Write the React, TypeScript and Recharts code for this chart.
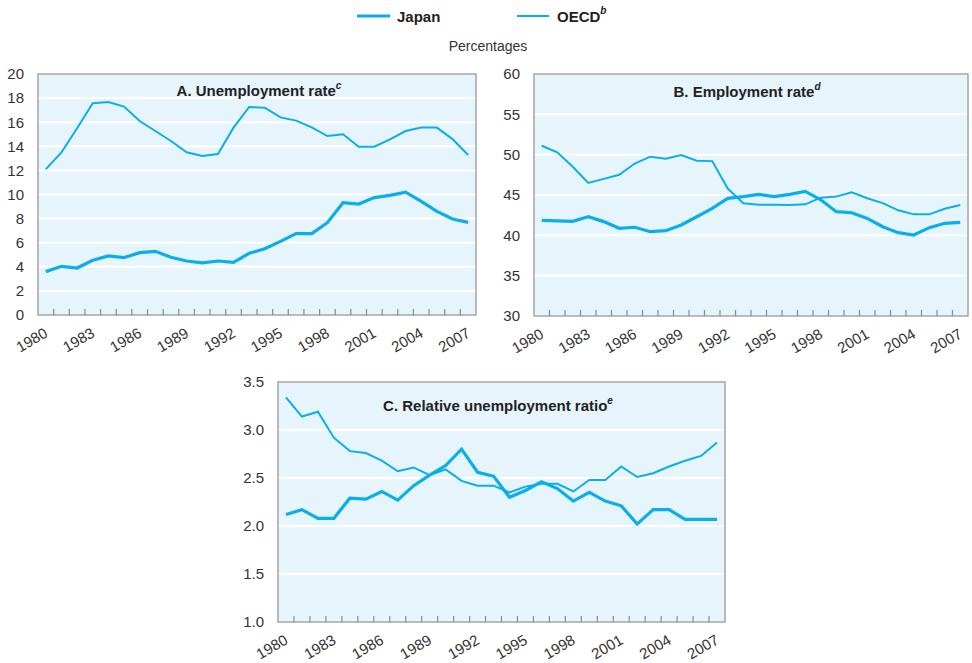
import React from 'react';
import { LineChart, Line, XAxis, YAxis, CartesianGrid, ReferenceArea } from 'recharts';

const YEARS = [1980, 1981, 1982, 1983, 1984, 1985, 1986, 1987, 1988, 1989, 1990, 1991, 1992, 1993, 1994, 1995, 1996, 1997, 1998, 1999, 2000, 2001, 2002, 2003, 2004, 2005, 2006, 2007];
const YEAR_LABELS = [1980, 1983, 1986, 1989, 1992, 1995, 1998, 2001, 2004, 2007];
const SERIES_JAPAN = 'Japan';
const SERIES_OECD = 'OECD';

const UNEMP_JAPAN = [3.6, 4.04, 3.9, 4.54, 4.9, 4.76, 5.17, 5.28, 4.79, 4.48, 4.32, 4.48, 4.37, 5.12, 5.5, 6.11, 6.75, 6.75, 7.66, 9.32, 9.21, 9.74, 9.93, 10.2, 9.43, 8.6, 7.97, 7.69];
const UNEMP_OECD = [12.1, 13.5, 15.5, 17.57, 17.68, 17.3, 16.1, 15.27, 14.44, 13.5, 13.2, 13.36, 15.55, 17.26, 17.2, 16.4, 16.13, 15.57, 14.85, 15.0, 13.97, 13.97, 14.58, 15.27, 15.55, 15.55, 14.6, 13.28];
const EMP_JAPAN = [41.86, 41.8, 41.74, 42.3, 41.7, 40.87, 41.0, 40.45, 40.58, 41.28, 42.3, 43.35, 44.59, 44.8, 45.08, 44.8, 45.08, 45.45, 44.4, 42.93, 42.8, 42.1, 41.07, 40.33, 40.04, 40.95, 41.49, 41.6];
const EMP_OECD = [51.1, 50.3, 48.5, 46.5, 47.0, 47.5, 48.9, 49.75, 49.5, 49.96, 49.26, 49.2, 45.8, 43.97, 43.8, 43.8, 43.76, 43.84, 44.67, 44.8, 45.33, 44.6, 44.0, 43.1, 42.6, 42.6, 43.3, 43.76];
const RATIO_JAPAN = [2.12, 2.17, 2.08, 2.08, 2.29, 2.28, 2.36, 2.27, 2.42, 2.53, 2.63, 2.8, 2.56, 2.52, 2.3, 2.37, 2.46, 2.39, 2.26, 2.35, 2.26, 2.21, 2.02, 2.17, 2.17, 2.07, 2.07, 2.07];
const RATIO_OECD = [3.34, 3.14, 3.19, 2.92, 2.78, 2.76, 2.68, 2.57, 2.61, 2.53, 2.59, 2.47, 2.42, 2.42, 2.35, 2.41, 2.44, 2.44, 2.36, 2.48, 2.48, 2.62, 2.51, 2.55, 2.62, 2.68, 2.73, 2.87];

const UNEMP_TICKS = [0, 2, 4, 6, 8, 10, 12, 14, 16, 18, 20];
const EMP_TICKS = [30, 35, 40, 45, 50, 55, 60];
const RATIO_TICKS = [1.0, 1.5, 2.0, 2.5, 3.0, 3.5];

const LINE_COLOR = '#0BAEEB';
const TEXT_COLOR = '#333333';
const BORDER_COLOR = '#A5A5A5';
const MARK_COLOR = '#8A8A8A';
const PLOT_BG = '#E6F5FC';
const FONT = '"Liberation Sans", Arial, Helvetica, sans-serif';

const X_DOMAIN: [number, number] = [YEARS[0] - 0.5, YEARS[YEARS.length - 1] + 0.5];
const BOUNDARIES = YEARS.slice(1).map((y) => y - 0.5);
const X_TICKS = [...BOUNDARIES, ...YEAR_LABELS].sort((a, b) => a - b);
const LABEL_SET = new Set(YEAR_LABELS);

const buildData = (japan: number[], oecd: number[]) =>
  YEARS.map((year, i) => ({ year, japan: japan[i], oecd: oecd[i] }));

const XTick = (props: any) => {
  const { x, y, payload } = props;
  if (LABEL_SET.has(payload.value)) {
    return (
      <g transform={`translate(${x},${y})`}>
        <text
          transform="translate(3,21) rotate(-30)"
          textAnchor="end"
          fontSize={15}
          fontFamily={FONT}
          fill={TEXT_COLOR}
        >
          {payload.value}
        </text>
      </g>
    );
  }
  return <line x1={x} x2={x} y1={y} y2={y - 6} stroke={MARK_COLOR} strokeWidth={1.2} />;
};

type PanelProps = {
  left: number;
  top: number;
  width: number;
  height: number;
  yWidth: number;
  margin: { top: number; right: number; bottom: number; left: number };
  xHeight: number;
  japan: number[];
  oecd: number[];
  ticks: number[];
  fmt?: (v: number) => string;
};

const Panel = ({ left, top, width, height, yWidth, margin, xHeight, japan, oecd, ticks, fmt }: PanelProps) => {
  const data = buildData(japan, oecd);
  const yDomain: [number, number] = [ticks[0], ticks[ticks.length - 1]];
  return (
    <div style={{ position: 'absolute', left, top, width, height }}>
      <LineChart width={width} height={height} data={data} margin={margin}>
        <CartesianGrid vertical={false} horizontal stroke="#FFFFFF" strokeWidth={2} fill={PLOT_BG} fillOpacity={1} />
        <ReferenceArea
          x1={X_DOMAIN[0]}
          x2={X_DOMAIN[1]}
          y1={yDomain[0]}
          y2={yDomain[1]}
          fill="none"
          stroke={BORDER_COLOR}
          strokeWidth={1.5}
        />
        <XAxis
          type="number"
          dataKey="year"
          domain={X_DOMAIN}
          ticks={X_TICKS}
          interval={0}
          height={xHeight}
          axisLine={false}
          tickLine={false}
          tickSize={0}
          tickMargin={0}
          tick={<XTick />}
        />
        <YAxis
          type="number"
          domain={yDomain}
          ticks={ticks}
          interval={0}
          width={yWidth}
          axisLine={false}
          tickLine={false}
          tickSize={0}
          tickMargin={14}
          tickFormatter={fmt}
          tick={{ fontSize: 15, fill: TEXT_COLOR, fontFamily: FONT }}
        />
        <Line
          type="linear"
          dataKey="oecd"
          name={SERIES_OECD}
          stroke={LINE_COLOR}
          strokeWidth={2}
          dot={false}
          isAnimationActive={false}
        />
        <Line
          type="linear"
          dataKey="japan"
          name={SERIES_JAPAN}
          stroke={LINE_COLOR}
          strokeWidth={3.2}
          dot={false}
          isAnimationActive={false}
        />
      </LineChart>
    </div>
  );
};

const Title = ({ x, y, text, sup }: { x: number; y: number; text: string; sup: string }) => (
  <text x={x} y={y} textAnchor="middle" fontFamily={FONT} fontSize={15} fontWeight="bold" fill="#222222">
    {text}
    <tspan fontSize={10} fontStyle="italic" dy={-7}>
      {sup}
    </tspan>
  </text>
);

export default function App() {
  return (
    <div style={{ position: 'absolute', left: 0, top: 0, width: 972, height: 663, background: '#FFFFFF', overflow: 'hidden', fontFamily: FONT }}>
      <Panel
        left={0}
        top={60}
        width={480}
        height={300}
        yWidth={38}
        margin={{ top: 14, right: 4, bottom: 5, left: 0 }}
        xHeight={40}
        japan={UNEMP_JAPAN}
        oecd={UNEMP_OECD}
        ticks={UNEMP_TICKS}
      />
      <Panel
        left={490}
        top={60}
        width={482}
        height={300}
        yWidth={44}
        margin={{ top: 14, right: 4, bottom: 4, left: 0 }}
        xHeight={40}
        japan={EMP_JAPAN}
        oecd={EMP_OECD}
        ticks={EMP_TICKS}
      />
      <Panel
        left={220}
        top={368}
        width={509}
        height={295}
        yWidth={58}
        margin={{ top: 14, right: 4, bottom: 3, left: 0 }}
        xHeight={38}
        japan={RATIO_JAPAN}
        oecd={RATIO_OECD}
        ticks={RATIO_TICKS}
        fmt={(v: number) => v.toFixed(1)}
      />
      <svg width={972} height={663} style={{ position: 'absolute', left: 0, top: 0, pointerEvents: 'none' }}>
        <line x1={357} x2={390} y1={16} y2={16} stroke={LINE_COLOR} strokeWidth={3.2} />
        <text x={397} y={22} fontFamily={FONT} fontSize={15} fontWeight="bold" fill="#222222">
          {SERIES_JAPAN}
        </text>
        <line x1={517} x2={549} y1={16} y2={16} stroke={LINE_COLOR} strokeWidth={2} />
        <text x={557} y={22} fontFamily={FONT} fontSize={15} fontWeight="bold" fill="#222222">
          {SERIES_OECD}
          <tspan fontSize={10} fontStyle="italic" dy={-8}>
            b
          </tspan>
        </text>
        <text x={488} y={51} textAnchor="middle" fontFamily={FONT} fontSize={14} fill={TEXT_COLOR}>
          Percentages
        </text>
        <Title x={259} y={96} text="A. Unemployment rate" sup="c" />
        <Title x={747} y={97} text="B. Employment rate" sup="d" />
        <Title x={498} y={411} text="C. Relative unemployment ratio" sup="e" />
      </svg>
    </div>
  );
}
